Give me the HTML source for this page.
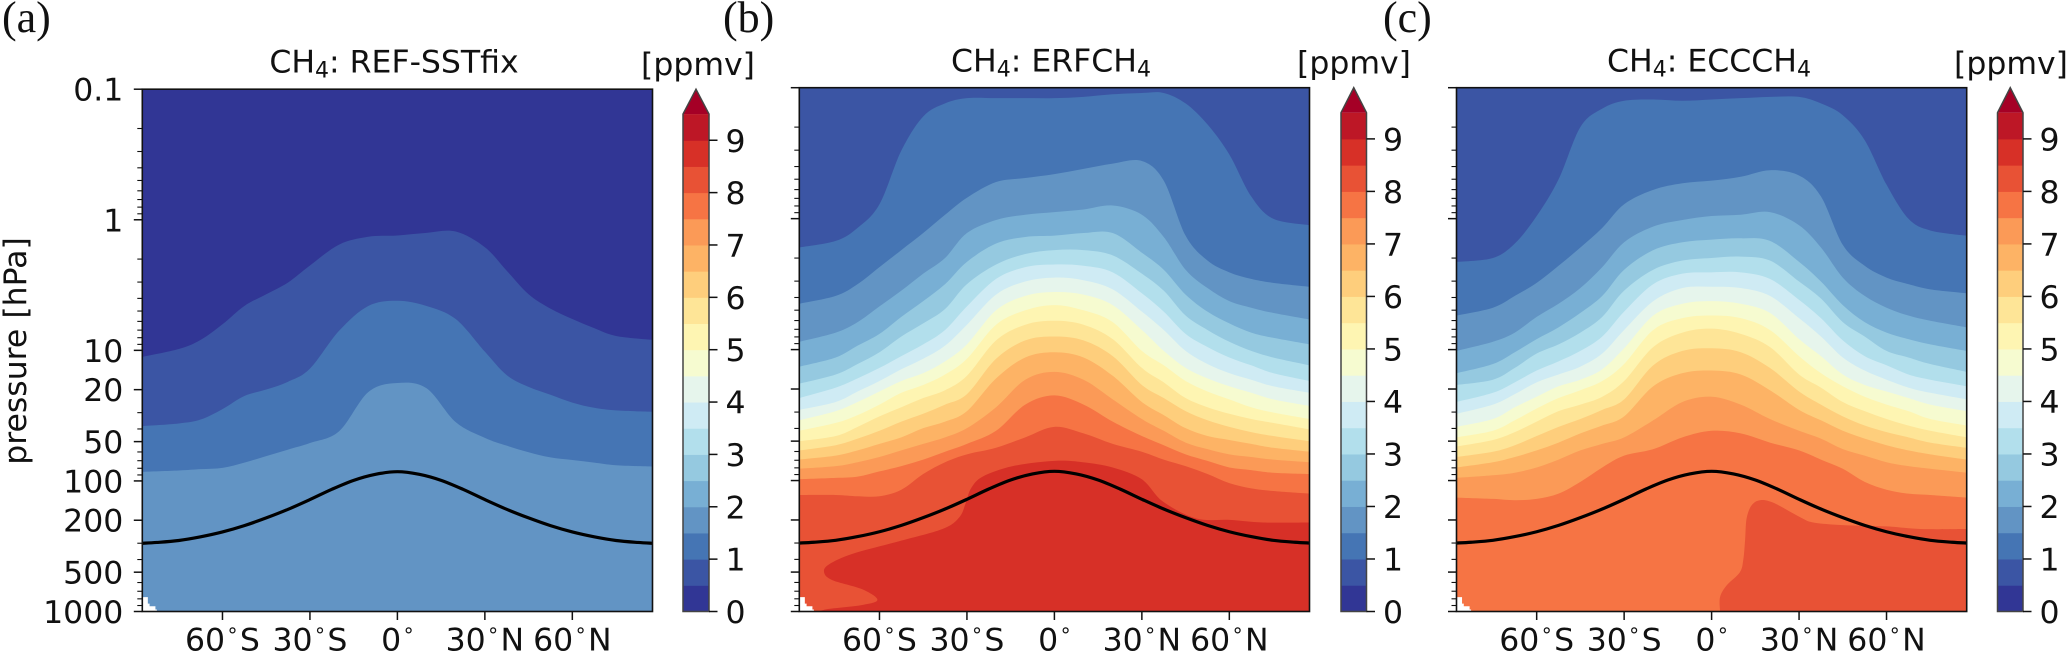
<!DOCTYPE html>
<html lang="en">
<head>
<meta charset="utf-8">
<title>CH4 zonal mean cross sections</title>
<style>
html,body{margin:0;padding:0;background:#fff;width:2067px;height:651px;overflow:hidden}
svg{display:block}
text{font-family:"DejaVu Sans","Liberation Sans",sans-serif;font-size:31.5px;fill:#111}
.lbl{font-family:"Liberation Serif","DejaVu Serif",serif;font-size:44px;fill:#111}
</style>
</head>
<body>
<svg id="fig" xmlns="http://www.w3.org/2000/svg" width="2067" height="651" viewBox="0 0 2067 651">
  <rect x="0" y="0" width="2067" height="651" fill="#fff"/>
  <text class="lbl" x="2" y="32">(a)</text>
  <text class="lbl" x="723" y="32">(b)</text>
  <text class="lbl" x="1383" y="32">(c)</text>
  <text x="394" y="72.5" text-anchor="middle">CH<tspan dy="5" font-size="22">4</tspan><tspan dy="-5">: REF-SSTfix</tspan></text>
  <text x="1051" y="71.5" text-anchor="middle">CH<tspan dy="5" font-size="22">4</tspan><tspan dy="-5">: ERFCH</tspan><tspan dy="5" font-size="22">4</tspan></text>
  <text x="1709" y="71.5" text-anchor="middle">CH<tspan dy="5" font-size="22">4</tspan><tspan dy="-5">: ECCCH</tspan><tspan dy="5" font-size="22">4</tspan></text>
  <text transform="translate(26,351) rotate(-90)" text-anchor="middle">pressure [hPa]</text>
  <text x="698" y="75" text-anchor="middle">[ppmv]</text>
  <text x="1354" y="73.5" text-anchor="middle">[ppmv]</text>
  <text x="2011" y="74" text-anchor="middle">[ppmv]</text>
  <g id="panel-a"></g>
  <g id="panel-b"></g>
  <g id="panel-c"></g>
</svg>
<script>
// ---------- data ----------
const latitudes = [-87.5,-75,-67.5,-60,-52.5,-45,-37.5,-30,-20,-10,0,10,20,30,37.5,45,52.5,60,67.5,75,87.5];

// panel (a): log10(pressure/hPa) of each contour at each latitude
const contourLevelsA = [0.5,1.0,1.5];
const contoursA = [
 [1.05,.99,.92,.80,.66,.57,.48,.35,.19,.13,.12,.10,.09,.21,.39,.57,.68,.76,.83,.89,.92],
 [1.58,1.56,1.53,1.45,1.35,1.30,1.24,1.14,.85,.66,.62,.66,.76,1.01,1.19,1.28,1.34,1.40,1.44,1.46,1.47],
 [1.93,1.92,1.91,1.90,1.86,1.81,1.76,1.71,1.62,1.32,1.25,1.29,1.55,1.67,1.73,1.78,1.82,1.84,1.86,1.88,1.89]
];

// panel (b)
const contourLevelsB = [1.0,1.5,2.0,2.5,3.0,3.5,4.0,4.5,5.0,5.5,6.0,6.5,7.0,7.5,8.0];
const contoursB = [
 [.22,.17,.07,-.11,-.52,-.78,-.88,-.92,-.92,-.92,-.92,-.93,-.95,-.96,-.96,-.88,-.72,-.49,-.17,0,.05],
 [.65,.59,.50,.37,.24,.11,-.03,-.16,-.28,-.31,-.34,-.38,-.42,-.44,-.29,.13,.32,.41,.46,.49,.52],
 [.94,.87,.79,.67,.55,.42,.30,.11,.01,-.03,-.05,-.07,-.10,-.03,.14,.39,.53,.63,.68,.72,.77],
 [1.13,1.06,.97,.88,.75,.63,.50,.33,.19,.14,.13,.11,.11,.26,.39,.58,.71,.80,.87,.91,.96],
 [1.26,1.19,1.11,1.02,.90,.80,.69,.50,.35,.27,.24,.24,.28,.42,.55,.74,.85,.94,1.01,1.06,1.12],
 [1.37,1.29,1.22,1.14,1.05,.96,.85,.67,.46,.37,.35,.36,.41,.57,.71,.88,.98,1.06,1.12,1.18,1.24],
 [1.46,1.40,1.32,1.24,1.15,1.07,.97,.81,.58,.48,.45,.47,.54,.71,.85,1.01,1.11,1.18,1.23,1.28,1.33],
 [1.54,1.47,1.40,1.32,1.24,1.18,1.09,.96,.70,.59,.56,.58,.66,.85,1.01,1.14,1.22,1.28,1.33,1.38,1.43],
 [1.62,1.56,1.50,1.42,1.33,1.27,1.19,1.07,.81,.70,.66,.70,.79,1.01,1.12,1.24,1.32,1.38,1.44,1.48,1.53],
 [1.70,1.66,1.59,1.51,1.44,1.37,1.31,1.20,.93,.81,.78,.81,.92,1.14,1.25,1.37,1.44,1.49,1.53,1.56,1.61],
 [1.77,1.73,1.68,1.62,1.55,1.49,1.42,1.34,1.07,.93,.90,.93,1.05,1.27,1.37,1.47,1.54,1.59,1.63,1.66,1.70],
 [1.84,1.81,1.77,1.72,1.67,1.60,1.55,1.47,1.22,1.06,1.02,1.06,1.20,1.40,1.50,1.60,1.66,1.69,1.72,1.75,1.78],
 [1.91,1.89,1.86,1.82,1.77,1.72,1.67,1.60,1.44,1.23,1.17,1.23,1.38,1.53,1.62,1.71,1.76,1.80,1.82,1.84,1.86],
 [1.99,1.98,1.97,1.93,1.89,1.84,1.78,1.72,1.62,1.42,1.35,1.42,1.55,1.66,1.73,1.80,1.85,1.90,1.92,1.94,1.95],
 [2.11,2.11,2.12,2.12,2.07,1.95,1.86,1.80,1.75,1.67,1.59,1.64,1.72,1.78,1.84,1.89,1.95,2.02,2.06,2.08,2.10]
];
// closed 8.5 ppmv region of panel (b): latitude and log10(pressure) along its boundary
const regionB85Level = 8.5;
const regionB85Lat = [87.5,71.6,60.1,48.7,37.2,30,20,9.7,0,-14.3,-24.6,-28.6,-30.4,-32.6,-38.4,-54.4,-69.3,-77.3,-79,-76.2,-65.9,-60.7,-65.9,-77.3,-80.8];
const regionB85LogP = [2.32,2.32,2.30,2.29,2.16,1.99,1.90,1.86,1.85,1.89,1.97,2.06,2.17,2.28,2.37,2.47,2.56,2.64,2.70,2.76,2.83,2.91,2.95,2.98,3.0];

// panel (c)
const contourLevelsC = [1.0,1.5,2.0,2.5,3.0,3.5,4.0,4.5,5.0,5.5,6.0,6.5,7.0,7.5];
const contoursC = [
 [.33,.30,.19,-.02,-.30,-.70,-.84,-.90,-.91,-.90,-.91,-.92,-.93,-.93,-.88,-.79,-.60,-.26,0,.09,.13],
 [.74,.68,.59,.49,.36,.22,.07,-.11,-.22,-.27,-.29,-.32,-.37,-.33,-.17,.20,.36,.45,.50,.54,.57],
 [1.01,.94,.87,.75,.65,.53,.37,.18,.06,.01,-.02,-.03,-.05,.05,.22,.45,.59,.68,.74,.78,.83],
 [1.18,1.11,1.02,.92,.83,.72,.59,.39,.24,.18,.16,.15,.17,.33,.48,.66,.79,.87,.92,.96,1.01],
 [1.27,1.23,1.14,1.03,.96,.87,.75,.55,.39,.32,.30,.29,.32,.48,.61,.79,.90,1.01,1.06,1.11,1.17],
 [1.40,1.33,1.25,1.16,1.09,1.01,.90,.71,.50,.42,.41,.41,.46,.62,.76,.93,1.05,1.12,1.19,1.23,1.28],
 [1.49,1.42,1.34,1.25,1.19,1.13,1.03,.85,.63,.53,.52,.53,.59,.76,.90,1.06,1.16,1.23,1.29,1.33,1.38],
 [1.59,1.53,1.44,1.36,1.28,1.23,1.15,.99,.74,.65,.63,.65,.72,.92,1.05,1.19,1.27,1.32,1.37,1.42,1.47],
 [1.67,1.62,1.54,1.45,1.37,1.31,1.24,1.11,.85,.76,.74,.76,.85,1.05,1.18,1.28,1.36,1.42,1.47,1.53,1.58],
 [1.74,1.69,1.63,1.55,1.47,1.42,1.36,1.24,.98,.87,.84,.88,.98,1.19,1.29,1.40,1.47,1.53,1.58,1.62,1.67],
 [1.82,1.78,1.73,1.66,1.59,1.53,1.46,1.38,1.12,1.01,.99,1.02,1.14,1.32,1.42,1.51,1.58,1.63,1.67,1.71,1.75],
 [1.90,1.86,1.82,1.77,1.71,1.64,1.58,1.51,1.28,1.18,1.16,1.19,1.31,1.46,1.54,1.62,1.68,1.73,1.77,1.80,1.84],
 [1.98,1.96,1.94,1.90,1.84,1.77,1.72,1.67,1.54,1.40,1.36,1.42,1.53,1.62,1.68,1.76,1.81,1.86,1.89,1.91,1.94],
 [2.13,2.14,2.15,2.14,2.10,2.01,1.90,1.81,1.76,1.67,1.62,1.64,1.71,1.77,1.84,1.91,2.01,2.07,2.10,2.11,2.13]
];
// closed 8.0 ppmv region of panel (c)
const regionC80Level = 8.0;
const regionC80Lat = [87.5,71.6,60.1,45,34.9,30.4,21.2,16.6,13.7,12,11.5,10.9,9.7,5.2,2.9,2.9];
const regionC80LogP = [2.37,2.37,2.35,2.34,2.32,2.28,2.17,2.15,2.19,2.29,2.45,2.60,2.70,2.80,2.89,3.0];

// missing-data corner (below the surface)
const missingLat = [-87.5,-85.6,-85.6,-85,-85,-83,-83,-82.5,-82.5,-87.5];
const missingLogP = [2.89,2.89,2.94,2.94,2.96,2.96,2.985,2.985,3,3];

// tropopause
const tropopauseLat = [-87.5,-82.5,-75,-67.5,-60,-52.5,-45,-37.5,-30,-22.5,-15,-7.5,0,7.5,15,22.5,30,37.5,45,52.5,60,67.5,75,82.5,87.5];
const tropopauseHpa = [300,296,286,268,246,220,192,165,139,116,99,89,85,89,99,116,139,165,192,220,246,268,286,296,300];

// axes
const pressureTicks = [0.1,1,10,20,50,100,200,500,1000];
const pressureLabels = ['0.1','1','10','20','50','100','200','500','1000'];
const pressureMinorTicks = [0.2,0.3,0.4,0.5,0.6,0.7,0.8,0.9,2,3,4,5,6,7,8,9,30,40,60,70,80,90,300,400,600,700,800,900];
const latTicks = [-60,-30,0,30,60];
const latLabelNumbers = ['60','30','0','30','60'];
const latLabelHemispheres = ['S','S','','N','N'];
const colorbarTicks = [0,1,2,3,4,5,6,7,8,9];
const colorbarBoundaries = [0,0.5,1,1.5,2,2.5,3,3.5,4,4.5,5,5.5,6,6.5,7,7.5,8,8.5,9,9.5];

// colormap: one colour per 0.5 ppmv band, beginning at 0
const bandColors = ['#313695','#3b55a4','#4575b4','#6294c4','#78afd4','#95c9e0','#b2dfec','#cfebf4','#e6f5ec','#f6fbd0','#fef5b2','#fee597','#fece7c','#fdb365','#fb9a57','#f67444','#e85235','#d73027','#bd1726'];
const overColor = '#a50026';

// ---------- drawing ----------
const NS = 'http://www.w3.org/2000/svg';
const BOTTOM = 611.5;
function make(tag, parent, props) {
  const el = document.createElementNS(NS, tag);
  for (const k in props) el.setAttribute(k, props[k]);
  parent.appendChild(el);
  return el;
}
function colorFor(level) { return bandColors[Math.round(level / 0.5)]; }
function smoothPath(p) {
  let d = 'M' + p[0][0].toFixed(2) + ',' + p[0][1].toFixed(2);
  for (let i = 0; i < p.length - 1; i++) {
    const a = p[Math.max(i - 1, 0)], b = p[i], c = p[i + 1], e = p[Math.min(i + 2, p.length - 1)];
    d += 'C' + (b[0] + (c[0] - a[0]) / 6).toFixed(2) + ',' + (b[1] + (c[1] - a[1]) / 6).toFixed(2) +
         ' ' + (c[0] - (e[0] - b[0]) / 6).toFixed(2) + ',' + (c[1] - (e[1] - b[1]) / 6).toFixed(2) +
         ' ' + c[0].toFixed(2) + ',' + c[1].toFixed(2);
  }
  return d;
}
function drawPanel(id, cfg) {
  const g = document.getElementById(id);
  const xOf = lat => cfg.x0 + (lat + 87.5) / 175 * (cfg.x1 - cfg.x0);
  const yOf = lp => cfg.top + (lp + 1) / 4 * (BOTTOM - cfg.top);
  const yP = p => yOf(Math.log10(p));

  const base = make('rect', g, {x: cfg.x0, y: cfg.top, width: cfg.x1 - cfg.x0, height: BOTTOM - cfg.top, fill: colorFor(cfg.baseLevel)});
  
  

  cfg.contours.forEach((row, i) => {
    const pts = latitudes.map((lat, j) => [xOf(lat), yOf(row[j])]);
    const band = make('path', g, {fill: colorFor(cfg.levels[i]),
      d: smoothPath(pts) + 'L' + cfg.x1 + ',' + BOTTOM + ' L' + cfg.x0 + ',' + BOTTOM + 'Z'});
    
    
  });

  if (cfg.regionLat) {
    const pts = cfg.regionLat.map((lat, j) => [xOf(lat), yOf(cfg.regionLogP[j])]);
    const region = make('path', g, {fill: colorFor(cfg.regionLevel),
      d: smoothPath(pts) + 'L' + cfg.x1 + ',' + BOTTOM + 'Z'});
    
    
  }

  const missing = make('path', g, {fill: '#fff',
    d: 'M' + missingLat.map((lat, j) => xOf(lat).toFixed(2) + ',' + yOf(missingLogP[j]).toFixed(2)).join('L') + 'Z'});
  
  

  const tp = make('path', g, {fill: 'none', stroke: '#000', 'stroke-width': 3.2,
    d: smoothPath(tropopauseLat.map((lat, j) => [xOf(lat), yP(tropopauseHpa[j])]))});
  
  

  const frame = make('rect', g, {x: cfg.x0, y: cfg.top, width: cfg.x1 - cfg.x0, height: BOTTOM - cfg.top, fill: 'none', stroke: '#111', 'stroke-width': 1.6});
  
  

  pressureTicks.forEach((p, i) => {
    const t = make('line', g, {x1: cfg.x0 - 8.5, x2: cfg.x0, y1: yP(p), y2: yP(p), stroke: '#111', 'stroke-width': 1.5});
    
    
    if (cfg.yLabels) {
      const lab = make('text', g, {x: cfg.x0 - 19, y: yP(p) + 11.5, 'text-anchor': 'end'});
      lab.textContent = pressureLabels[i];
      
      
    }
  });
  pressureMinorTicks.forEach(p => {
    const t = make('line', g, {x1: cfg.x0 - 5, x2: cfg.x0, y1: yP(p), y2: yP(p), stroke: '#111', 'stroke-width': 1.1});
    
    
  });
  latTicks.forEach((lat, i) => {
    const t = make('line', g, {x1: xOf(lat), x2: xOf(lat), y1: BOTTOM, y2: BOTTOM + 8.5, stroke: '#111', 'stroke-width': 1.5});
    
    
    const lab = make('text', g, {x: xOf(lat), y: 650.5, 'text-anchor': 'middle'});
    
    
    const num = make('tspan', lab, {});
    num.textContent = latLabelNumbers[i];
    const deg = make('tspan', lab, {dx: 2.4, dy: -8, 'font-size': 20});
    deg.textContent = '°';
    const hemi = make('tspan', lab, {dx: 2.4, dy: 8});
    hemi.textContent = latLabelHemispheres[i];
  });

  // colorbar
  const barTop = BOTTOM - (BOTTOM - cfg.top) / 1.05;
  const yC = v => BOTTOM - v / 9.5 * (BOTTOM - barTop);
  for (let i = 0; i < colorbarBoundaries.length - 1; i++) {
    const r = make('rect', g, {x: cfg.cx0, width: cfg.cx1 - cfg.cx0, y: yC(colorbarBoundaries[i + 1]),
      height: yC(colorbarBoundaries[i]) - yC(colorbarBoundaries[i + 1]) + 0.5, fill: bandColors[i]});
    
    
  }
  const mid = (cfg.cx0 + cfg.cx1) / 2;
  const tri = make('path', g, {fill: overColor,
    d: 'M' + cfg.cx0 + ',' + yC(9.5) + 'L' + mid + ',' + cfg.top + 'L' + cfg.cx1 + ',' + yC(9.5) + 'Z'});
  
  
  const outline = make('path', g, {fill: 'none', stroke: '#444', 'stroke-width': 1.5,
    d: 'M' + cfg.cx0 + ',' + BOTTOM + 'L' + cfg.cx0 + ',' + yC(9.5) + 'L' + mid + ',' + cfg.top + 'L' + cfg.cx1 + ',' + yC(9.5) + 'L' + cfg.cx1 + ',' + BOTTOM + 'Z'});
  
  
  colorbarTicks.forEach(v => {
    const t = make('line', g, {x1: cfg.cx1, x2: cfg.cx1 + 8.5, y1: yC(v), y2: yC(v), stroke: '#111', 'stroke-width': 1.5});
    
    
    const lab = make('text', g, {x: cfg.cx1 + 16.5, y: yC(v) + 11.5});
    lab.textContent = String(v);
    
    
  });
}

drawPanel('panel-a', {x0: 142.3, x1: 652.5, top: 89.2, baseLevel: 0, levels: contourLevelsA, contours: contoursA, yLabels: true, cx0: 683, cx1: 709});
drawPanel('panel-b', {x0: 799.3, x1: 1309.5, top: 87.7, baseLevel: 0.5, levels: contourLevelsB, contours: contoursB, regionLat: regionB85Lat, regionLogP: regionB85LogP, regionLevel: regionB85Level, yLabels: false, cx0: 1341, cx1: 1366.5});
drawPanel('panel-c', {x0: 1456.5, x1: 1966.7, top: 87.7, baseLevel: 0.5, levels: contourLevelsC, contours: contoursC, regionLat: regionC80Lat, regionLogP: regionC80LogP, regionLevel: regionC80Level, yLabels: false, cx0: 1997.5, cx1: 2023});
</script>
</body>
</html>
